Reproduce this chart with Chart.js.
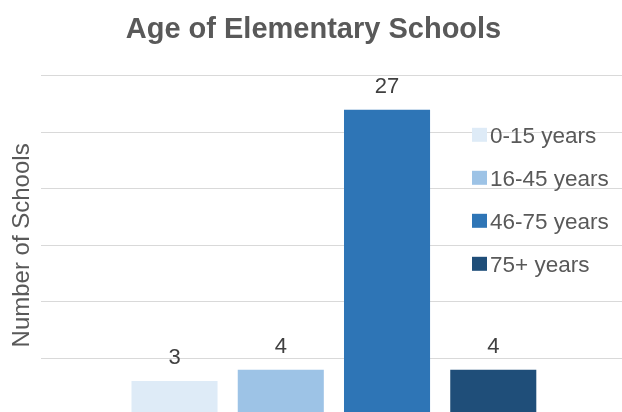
<!DOCTYPE html>
<html>
<head>
<meta charset="utf-8">
<script src="https://cdn.jsdelivr.net/npm/chart.js@4.4.1/dist/chart.umd.min.js"></script>
<style>
  html, body { margin: 0; padding: 0; background: #fff; overflow: hidden; }
  #wrap { width: 622px; height: 412px; overflow: hidden; position: relative; }
  #wrap canvas { position: absolute; left: 0; top: 0; }
</style>
</head>
<body>
<div id="wrap"><canvas id="chart" width="632" height="420"></canvas></div>
<script>
// un'unica categoria, quattro serie (come nel grafico Excel)
const categories = [''];
const seriesNames = ['0-15 years', '16-45 years', '46-75 years', '75+ years'];
const seriesValues = [3, 4, 27, 4];
const seriesColors = ['#DEEBF7', '#9DC3E6', '#2E75B6', '#1F4E79'];
const yMin = 0;
const yMax = 30;
const yStep = 5;

const fontFamily = "'Liberation Sans', Arial, sans-serif";
const textGrey = '#595959';

// etichette dei valori sopra le barre
const valueLabels = {
  id: 'valueLabels',
  afterDatasetsDraw(chart) {
    const ctx = chart.ctx;
    ctx.save();
    ctx.font = `22px ${fontFamily}`;
    ctx.fillStyle = '#404040';
    ctx.textAlign = 'center';
    ctx.textBaseline = 'alphabetic';
    chart.data.datasets.forEach((ds, i) => {
      chart.getDatasetMeta(i).data.forEach((bar, j) => {
        ctx.fillText(String(ds.data[j]), bar.x, bar.y - 17);
      });
    });
    ctx.restore();
  }
};

// legenda disegnata sopra l'area del grafico, come in Excel
const overlayLegend = {
  id: 'overlayLegend',
  afterDraw(chart) {
    const ctx = chart.ctx;
    const area = chart.chartArea;
    const x = area.right - 155;
    const y0 = area.top + 59;
    const step = 43;
    ctx.save();
    ctx.font = `22.5px ${fontFamily}`;
    ctx.textBaseline = 'middle';
    ctx.textAlign = 'left';
    chart.data.datasets.forEach((ds, i) => {
      const y = y0 + i * step;
      ctx.fillStyle = ds.backgroundColor;
      ctx.fillRect(x, y - 7, 15, 14);
      ctx.fillStyle = textGrey;
      ctx.fillText(ds.label, x + 18, y + 2);
    });
    ctx.restore();
  }
};

const ctx = document.getElementById('chart').getContext('2d');

const chart = new Chart(ctx, {
  type: 'bar',
  data: {
    labels: categories,
    datasets: seriesNames.map((name, i) => ({
      label: name,
      data: [seriesValues[i]],
      backgroundColor: seriesColors[i],
      borderWidth: 0,
      categoryPercentage: 0.725,
      barPercentage: 0.81
    }))
  },
  options: {
    responsive: false,
    animation: false,
    devicePixelRatio: 1,
    layout: { padding: { left: 0, right: 5, bottom: 5, top: 0 } },
    plugins: {
      legend: { display: false },
      tooltip: { enabled: false },
      title: {
        display: true,
        text: 'Age of Elementary Schools',
        color: textGrey,
        font: { family: fontFamily, size: 29, weight: 'bold' },
        padding: { top: 13, bottom: 28 }
      }
    },
    scales: {
      x: { display: false },
      y: {
        min: yMin,
        max: yMax,
        ticks: { display: false, stepSize: yStep },
        grid: { color: '#D9D9D9', lineWidth: 1, drawTicks: false },
        border: { display: false },
        title: {
          display: true,
          text: 'Number of Schools',
          color: textGrey,
          font: { family: fontFamily, size: 24 },
          padding: { top: 8, bottom: 4 }
        }
      }
    }
  },
  plugins: [valueLabels, overlayLegend]
});
</script>
</body>
</html>
